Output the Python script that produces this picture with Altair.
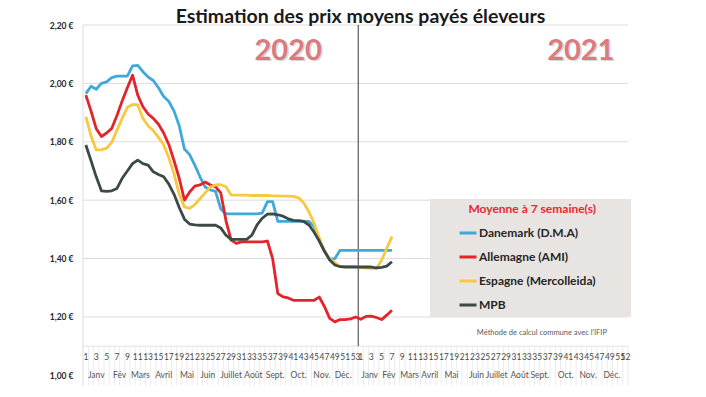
import altair as alt
import pandas as pd

# ---- data -------------------------------------------------------------
series_names = ["Danemark (D.M.A)", "Allemagne (AMI)", "Espagne (Mercolleida)", "MPB"]
series_colors = ["#3fa9d9", "#e3242b", "#f6c940", "#3b4a47"]

# index 1..53 = weeks 2020, 54..60 = weeks 1..7 of 2021
danemark = [1.965, 1.99, 1.98, 2.00, 2.005, 2.02, 2.025, 2.025, 2.025, 2.06,
            2.062, 2.04, 2.022, 2.01, 1.985, 1.955, 1.938, 1.905, 1.855, 1.775,
            1.756, 1.72, 1.68, 1.645, 1.635, 1.63, 1.57, 1.553, 1.553, 1.553,
            1.553, 1.553, 1.553, 1.553, 1.556, 1.595, 1.595, 1.527, 1.527, 1.527,
            1.527, 1.527, 1.527, 1.527, 1.51, 1.46, 1.425, 1.398, 1.40, 1.428,
            1.428, 1.428, 1.428, 1.428, 1.428, 1.428, 1.428, 1.428, 1.428, 1.428]
allemagne = [1.96, 1.905, 1.845, 1.818, 1.83, 1.846, 1.89, 1.94, 1.985, 2.028,
             1.96, 1.92, 1.895, 1.88, 1.86, 1.83, 1.79, 1.735, 1.675, 1.60,
             1.628, 1.648, 1.652, 1.662, 1.652, 1.646, 1.625, 1.53, 1.463, 1.452,
             1.457, 1.457, 1.457, 1.457, 1.457, 1.46, 1.40, 1.28, 1.269, 1.265,
             1.257, 1.257, 1.257, 1.257, 1.257, 1.268, 1.235, 1.195, 1.183, 1.191,
             1.191, 1.193, 1.20, 1.192, 1.202, 1.203, 1.198, 1.191, 1.206, 1.223]
espagne = [1.886, 1.82, 1.772, 1.772, 1.778, 1.798, 1.84, 1.88, 1.918, 1.928,
           1.926, 1.88, 1.855, 1.838, 1.815, 1.79, 1.745, 1.69, 1.62, 1.577,
           1.572, 1.585, 1.605, 1.625, 1.645, 1.652, 1.653, 1.646, 1.618, 1.617,
           1.617, 1.617, 1.616, 1.616, 1.616, 1.616, 1.615, 1.615, 1.614, 1.614,
           1.613, 1.608, 1.59, 1.56, 1.52, 1.47, 1.425, 1.40, 1.385, 1.374,
           1.372, 1.372, 1.372, 1.370, 1.367, 1.366, 1.366, 1.394, 1.435, 1.475]
mpb = [1.789, 1.735, 1.68, 1.632, 1.63, 1.632, 1.64, 1.675, 1.70, 1.725,
       1.737, 1.725, 1.72, 1.697, 1.688, 1.68, 1.655, 1.62, 1.575, 1.535,
       1.518, 1.515, 1.514, 1.514, 1.514, 1.514, 1.505, 1.48, 1.466, 1.466,
       1.466, 1.466, 1.48, 1.515, 1.538, 1.552, 1.553, 1.55, 1.545, 1.536,
       1.531, 1.53, 1.527, 1.515, 1.49, 1.46, 1.425, 1.395, 1.378, 1.372,
       1.371, 1.371, 1.371, 1.371, 1.371, 1.371, 1.368, 1.37, 1.374, 1.389]

y_ticks = [1.0, 1.2, 1.4, 1.6, 1.8, 2.0, 2.2]
grid_values = [1.2, 1.4, 1.6, 1.8, 2.0, 2.2]

weeks_2020 = list(range(1, 54))
weeks_2021 = list(range(1, 53))

months = ["Janv", "Fév", "Mars", "Avril", "Mai", "Juin", "Juillet", "Août",
          "Sept.", "Oct.", "Nov.", "Déc."]
month_pos_2020 = [3, 7.5, 11.5, 16, 20.5, 24.5, 29, 33.3, 37.5, 42, 46.5, 50.6]
month_pos_2021 = [55.7, 59.4, 63.4, 67.3, 71.5, 76.3, 80.2, 84.6, 88.5, 93.5, 97.8, 102.4]

years = ["2020", "2021"]
year_pos = [40, 96.4]

# ---- tables -----------------------------------------------------------
rows = []
for name, vals in zip(series_names, [danemark, allemagne, espagne, mpb]):
    for i, v in enumerate(vals):
        rows.append({"idx": i + 1, "serie": name, "prix": v})
df = pd.DataFrame(rows)

all_weeks = weeks_2020 + weeks_2021
week_idx = weeks_2020 + [53 + w for w in weeks_2021]
keep = [(w % 2 == 1) or (i == len(all_weeks) - 1) for i, w in enumerate(all_weeks)]
wk_lbl = pd.DataFrame({"idx": [a for a, k in zip(week_idx, keep) if k],
                       "lab": [str(w) for w, k in zip(all_weeks, keep) if k]})
minor = pd.DataFrame({"idx": [i + 0.5 for i in range(0, 106)]})

mo = pd.DataFrame({"idx": month_pos_2020 + month_pos_2021, "lab": months + months})
yr = pd.DataFrame({"idx": year_pos, "lab": years})
grid = pd.DataFrame({"v": grid_values})
one = pd.DataFrame({"a": [0]})

FONT = "Lato"
xs = alt.Scale(domain=[0.45, 105.5], nice=False, zero=False)
ys = alt.Scale(domain=[0.96, 2.2], nice=False, zero=False)

yaxis = alt.Axis(values=y_ticks,
                 labelExpr="replace(format(datum.value, '.2f'), '.', ',') + ' €'",
                 domain=False, ticks=False, grid=False, title=None,
                 labelFontSize=8.5, labelFontWeight="bold", labelColor="#262626",
                 labelFont=FONT, labelPadding=10)


def X(f):
    return alt.X(f, scale=xs, axis=None)


def Y(f):
    return alt.Y(f, scale=ys, axis=yaxis)


grid_layer = alt.Chart(grid).mark_rule(color="#dcdcdc", strokeWidth=1).encode(
    y=Y("v:Q"))

base_line = alt.Chart(one).transform_calculate(yb="1.10").mark_rule(
    color="#e0e0e0", strokeWidth=1).encode(y=Y("yb:Q"))

left_line = alt.Chart(one).transform_calculate(
    xl="0.45", yt="2.2", yb="0.965").mark_rule(color="#dcdcdc", strokeWidth=1).encode(
    x=X("xl:Q"), y=Y("yt:Q"), y2="yb:Q")

minor_layer = alt.Chart(minor).transform_calculate(
    yt="1.10", yb="0.965").mark_rule(color="#ececec", strokeWidth=1).encode(
    x=X("idx:Q"), y=Y("yt:Q"), y2="yb:Q")

legend_bg = alt.Chart(one).mark_rect(color="#e7e4e2").encode(
    x=alt.value(347), x2=alt.value(548), y=alt.value(174), y2=alt.value(292))

sep = alt.Chart(one).transform_calculate(
    xs_="53.5", yt="2.2", yb="1.10").mark_rule(color="#3a3a3a", strokeWidth=1).encode(
    x=X("xs_:Q"), y=Y("yt:Q"), y2="yb:Q")

lines = alt.Chart(df).mark_line(strokeWidth=2.8, strokeJoin="round").encode(
    x=X("idx:Q"),
    y=Y("prix:Q"),
    color=alt.Color("serie:N", sort=series_names,
                    scale=alt.Scale(domain=series_names, range=series_colors),
                    legend=alt.Legend(orient="none", legendX=375, legendY=179,
                                      title="Moyenne à 7 semaine(s)",
                                      titleColor="#e8282e", titleFontSize=12,
                                      titleFontWeight="bold", titleFont=FONT,
                                      titleAnchor="end", titlePadding=7,
                                      symbolType="stroke", symbolSize=289,
                                      symbolStrokeWidth=3, labelFontSize=12,
                                      labelFontWeight="bold", labelFont=FONT,
                                      labelColor="#262626", labelOffset=1,
                                      rowPadding=8, padding=0, offset=0,
                                      labelLimit=300)),
    order=alt.Order("idx:Q"))

year_shadow = alt.Chart(yr).transform_calculate(yy="2.111").mark_text(
    font=FONT, fontSize=29, fontWeight="bold", color="#bbbbbb", opacity=0.6,
    dx=1.5, dy=1.5).encode(x=X("idx:Q"), y=Y("yy:Q"), text="lab:N")
year_text = alt.Chart(yr).transform_calculate(yy="2.111").mark_text(
    font=FONT, fontSize=29, fontWeight="bold", color="#db7a7f").encode(
    x=X("idx:Q"), y=Y("yy:Q"), text="lab:N")

week_text = alt.Chart(wk_lbl).transform_calculate(yy="1.062").mark_text(
    font=FONT, fontSize=8.5, color="#4a4a4a").encode(
    x=X("idx:Q"), y=Y("yy:Q"), text="lab:N")
month_text = alt.Chart(mo).transform_calculate(yy="1.0").mark_text(
    font=FONT, fontSize=8.5, color="#555555").encode(
    x=X("idx:Q"), y=Y("yy:Q"), text="lab:N")

methode = alt.Chart(one).transform_calculate(
    xx="88.9", yy="1.144", t="\"Méthode de calcul commune avec l'IFIP\"").mark_text(
    font=FONT, fontSize=7.5, color="#595959").encode(
    x=X("xx:Q"), y=Y("yy:Q"), text="t:N")

chart = alt.layer(
    grid_layer, base_line, left_line, minor_layer, legend_bg, sep, lines,
    year_shadow, year_text, week_text, month_text, methode
).properties(
    width=545, height=362,
    autosize=alt.AutoSizeParams(type="none"),
    padding={"left": 75, "top": 17, "right": 12, "bottom": 0},
    title=alt.TitleParams("Estimation des prix moyens payés éleveurs", fontSize=19.5,
                          font=FONT, fontWeight="bold", color="#1a1a1a",
                          anchor="middle", offset=4, dx=5, dy=10),
    background="white",
).configure_view(stroke=None)

chart.save("out.html", embed_options={"renderer": "svg", "actions": False})
